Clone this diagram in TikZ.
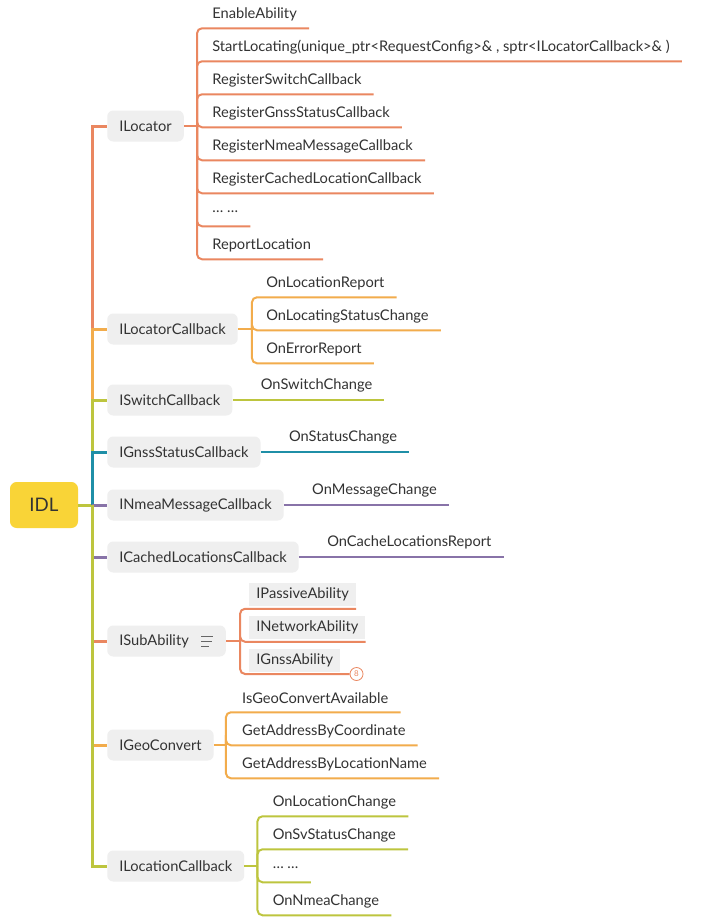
\documentclass[tikz,border=0pt]{standalone}
\usepackage{fontspec}
\setmainfont{Lato}
\usetikzlibrary{positioning,calc}
\definecolor{cRed}{HTML}{EA8760}
\definecolor{cOrange}{HTML}{F2AC4C}
\definecolor{cGreen}{HTML}{BDC53E}
\definecolor{cTeal}{HTML}{1F8FA7}
\definecolor{cPurple}{HTML}{8873A8}
\definecolor{boxGray}{HTML}{EFEFEF}
\definecolor{idlYellow}{HTML}{F9D437}
\definecolor{txt}{HTML}{333333}

\begin{document}
\begin{tikzpicture}[x=0.75pt, y=-0.75pt,
  every node/.style={text=txt, font=\fontsize{11}{13}\selectfont},
  root/.style={fill=idlYellow, rounded corners=5pt, minimum width=51pt, minimum height=34.5pt, font=\fontsize{14}{16}\selectfont},
  iface/.style={fill=boxGray, rounded corners=4.5pt, anchor=west, inner xsep=9pt, minimum height=23.25pt},
  leaf/.style={anchor=west, inner sep=0pt, minimum height=21pt},
  subleaf/.style={fill=boxGray, anchor=west, inner xsep=5.25pt, inner ysep=0pt, minimum height=17.25pt},
  spine/.style={line width=2.25pt},
  branch/.style={line width=1.5pt, rounded corners=3.75pt},
  badge/.style={circle, draw=cRed, fill=white, line width=0.6pt, inner sep=0pt, minimum size=9.75pt, text=cRed, font=\fontsize{6}{6}\selectfont},
]
  \useasboundingbox[fill=white] (0,0) rectangle (704,921);

  %% root and interfaces
  \node[root] (idl) at (44,505) {IDL};
  \node[iface] (loc) at (107,126) {ILocator};
  \node[iface] (lcb) at (107,329) {ILocatorCallback};
  \node[iface] (swc) at (107,400) {ISwitchCallback};
  \node[iface] (gsc) at (107,452) {IGnssStatusCallback};
  \node[iface] (nmc) at (107,505) {INmeaMessageCallback};
  \node[iface] (cac) at (107,557) {ICachedLocationsCallback};
  \node[iface] (sab) at (107,641) {ISubAbility\kern18.75pt};
  \node[iface] (geo) at (107,745) {IGeoConvert};
  \node[iface] (lnc) at (107,866) {ILocationCallback};

  %% spine: upper half outer first, lower half inner first
  \coordinate (sp) at ([xshift=10.5pt]idl.east);
  \draw[spine, cGreen] (idl.east) -- (sp);
  \draw[spine, cRed] (sp) |- (loc.west);
  \draw[spine, cOrange] (sp) |- (lcb.west);
  \draw[spine, cGreen] (sp) |- (swc.west);
  \draw[spine, cTeal] (sp) |- (gsc.west);
  \draw[spine, cPurple] (sp) -- (nmc.west);
  \draw[spine, cPurple] (sp) |- (cac.west);
  \draw[spine, cRed] (sp) |- (sab.west);
  \draw[spine, cOrange] (sp) |- (geo.west);
  \draw[spine, cGreen] (sp) |- (lnc.west);

  %% ILocator
  \coordinate (locb) at ([xshift=9.75pt]loc.east);
  \coordinate (locx) at ([xshift=11.25pt]locb);
  \draw[branch, cRed] (loc.east) -- (locb);
  \foreach \y/\t [count=\i] in {14/EnableAbility,
      47/{StartLocating(unique\_ptr<RequestConfig>\& , sptr<ILocatorCallback>\& )},
      80/RegisterSwitchCallback, 113/RegisterGnssStatusCallback,
      146/RegisterNmeaMessageCallback, 179/RegisterCachedLocationCallback,
      212/{… …}, 245/ReportLocation}{
    \node[leaf] (loc\i) at (locx |- 0,\y) {\t};
    \draw[branch, cRed] (locb) |- ([xshift=9pt]loc\i.south east);
  }

  %% ILocatorCallback
  \coordinate (lcbb) at ([xshift=10.5pt]lcb.east);
  \coordinate (lcbx) at ([xshift=10.5pt]lcbb);
  \draw[branch, cOrange] (lcb.east) -- (lcbb);
  \foreach \y/\t [count=\i] in {283/OnLocationReport, 316/OnLocatingStatusChange, 349/OnErrorReport}{
    \node[leaf] (lcb\i) at (lcbx |- 0,\y) {\t};
    \draw[branch, cOrange] (lcbb) |- ([xshift=9pt]lcb\i.south east);
  }

  %% single leaves
  \node[leaf, anchor=south west] (swc1) at ([xshift=21pt]swc.east) {OnSwitchChange};
  \draw[branch, cGreen] (swc.east) -- ([xshift=9pt]swc1.south east);
  \node[leaf, anchor=south west] (gsc1) at ([xshift=21pt]gsc.east) {OnStatusChange};
  \draw[branch, cTeal] (gsc.east) -- ([xshift=9pt]gsc1.south east);
  \node[leaf, anchor=south west] (nmc1) at ([xshift=21pt]nmc.east) {OnMessageChange};
  \draw[branch, cPurple] (nmc.east) -- ([xshift=9pt]nmc1.south east);
  \node[leaf, anchor=south west] (cac1) at ([xshift=21pt]cac.east) {OnCacheLocationsReport};
  \draw[branch, cPurple] (cac.east) -- ([xshift=9pt]cac1.south east);

  %% ISubAbility
  \foreach \dy/\len in {-5/12, 0/11, 5/8}
    \draw[black!60, line width=0.75pt] ($(sab.east)+(-25,\dy)$) -- ++(\len,0);
  \coordinate (sabb) at ([xshift=10.5pt]sab.east);
  \coordinate (sabx) at ([xshift=6.75pt]sabb);
  \draw[branch, cRed] (sab.east) -- (sabb);
  \foreach \y/\t [count=\i] in {594/IPassiveAbility, 627/INetworkAbility, 660/IGnssAbility}
    \node[subleaf] (sab\i) at (sabx |- 0,\y) {\t};
  \node[badge] (bdg) at ([xshift=12pt, yshift=-10.5pt]sab3.east) {8};
  \draw[branch, cRed] (sabb) |- ([yshift=-2.25pt]sab1.south east);
  \draw[branch, cRed] (sabb) |- ([yshift=-2.25pt]sab2.south east);
  \draw[branch, cRed] (sabb) |- (bdg.west);

  %% IGeoConvert
  \coordinate (geob) at ([xshift=9pt]geo.east);
  \coordinate (geox) at ([xshift=12pt]geob);
  \draw[branch, cOrange] (geo.east) -- (geob);
  \foreach \y/\t [count=\i] in {698/IsGeoConvertAvailable, 731/GetAddressByCoordinate, 764/GetAddressByLocationName}{
    \node[leaf] (geo\i) at (geox |- 0,\y) {\t};
    \draw[branch, cOrange] (geob) |- ([xshift=9pt]geo\i.south east);
  }

  %% ILocationCallback
  \coordinate (lncb) at ([xshift=9.75pt]lnc.east);
  \coordinate (lncx) at ([xshift=11.25pt]lncb);
  \draw[branch, cGreen] (lnc.east) -- (lncb);
  \foreach \y/\t [count=\i] in {802/OnLocationChange, 835/OnSvStatusChange, 868/{… …}, 901/OnNmeaChange}{
    \node[leaf] (lnc\i) at (lncx |- 0,\y) {\t};
    \draw[branch, cGreen] (lncb) |- ([xshift=9pt]lnc\i.south east);
  }
\end{tikzpicture}
\end{document}
